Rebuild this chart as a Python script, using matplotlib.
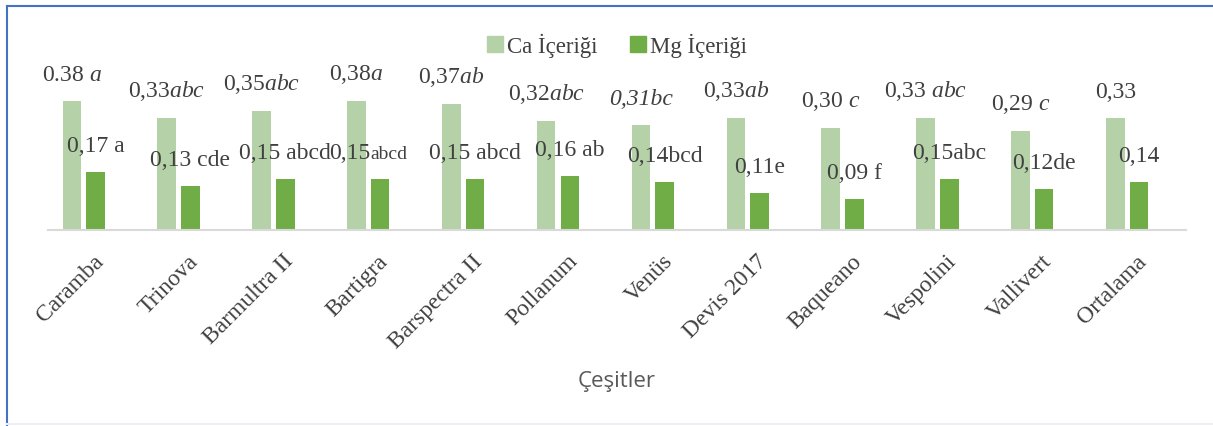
import numpy as np
import matplotlib.pyplot as plt
from matplotlib.patches import Patch
import matplotlib.transforms as mtransforms

plt.rcParams['font.family'] = ['Liberation Serif', 'DejaVu Serif']
plt.rcParams['mathtext.fontset'] = 'custom'
plt.rcParams['mathtext.rm'] = 'Liberation Serif'
plt.rcParams['mathtext.it'] = 'Liberation Serif:italic'

cesitler = ['Caramba', 'Trinova', 'Barmultra II', 'Bartigra', 'Barspectra II',
            'Pollanum', 'Venüs', 'Devis 2017', 'Baqueano', 'Vespolini',
            'Vallivert', 'Ortalama']
ca = [0.38, 0.33, 0.35, 0.38, 0.37, 0.32, 0.31, 0.33, 0.30, 0.33, 0.29, 0.33]
mg = [0.17, 0.13, 0.15, 0.15, 0.15, 0.16, 0.14, 0.11, 0.09, 0.15, 0.12, 0.14]
ca_labels = ['0.38 $\\mathit{a}$', '0,33$\\mathit{abc}$', '0,35$\\mathit{abc}$',
             '0,38$\\mathit{a}$', '0,37$\\mathit{ab}$', '0,32$\\mathit{abc}$',
             '0,31bc', '0,33$\\mathit{ab}$', '0,30 $\\mathit{c}$',
             '0,33 $\\mathit{abc}$', '0,29 $\\mathit{c}$', '0,33']
mg_labels = ['0,17 a', '0,13 cde', '0,15 abcd', None, '0,15 abcd', '0,16 ab',
             '0,14bcd', '0,11e', '0,09 f', '0,15abc', '0,12de', '0,14']

ca_color = '#B5D1A7'
mg_color = '#70AD47'
txt = '#404040'

fig = plt.figure(figsize=(12.13, 4.27), dpi=100)
ax = fig.add_axes([48 / 1213, 1 - 231 / 427, 1138 / 1213, 170 / 427])

x = np.arange(len(cesitler))
w = 0.195
ax.bar(x - 0.125, ca, w, color=ca_color, zorder=2)
ax.bar(x + 0.125, mg, w, color=mg_color, zorder=2)

ax.set_xlim(-0.376, 11.62)
ax.set_ylim(0, 0.5)
for s in ['top', 'right', 'left']:
    ax.spines[s].set_visible(False)
ax.spines['bottom'].set_color('#D9D9D9')
ax.spines['bottom'].set_linewidth(1.5)
ax.set_yticks([])

for i in range(len(cesitler)):
    style = 'italic' if ca_labels[i] == '0,31bc' else 'normal'
    ax.annotate(ca_labels[i], (x[i] - 0.125, ca[i]), xytext=(0, 11.5),
                textcoords='offset points', ha='center', va='bottom',
                fontsize=17, color=txt, fontstyle=style, annotation_clip=False)
    if mg_labels[i] is not None:
        ax.annotate(mg_labels[i], (x[i] + 0.125, mg[i]), xytext=(0, 11.5),
                    textcoords='offset points', ha='center', va='bottom',
                    fontsize=17, color=txt, annotation_clip=False)
    else:
        ax.annotate('0,15', (x[i] + 0.125, mg[i]), xytext=(-7, 11.5),
                    textcoords='offset points', ha='right', va='bottom',
                    fontsize=17, color=txt, annotation_clip=False)
        ax.annotate('abcd', (x[i] + 0.125, mg[i]), xytext=(-7, 12.1),
                    textcoords='offset points', ha='left', va='bottom',
                    fontsize=14, color=txt, annotation_clip=False)

ax.set_xticks(x)
ax.set_xticklabels(cesitler, rotation=45, ha='right', rotation_mode='anchor',
                   fontsize=17, color=txt)
ax.tick_params(axis='x', length=0, pad=0)
offset = mtransforms.ScaledTranslation(9 / 100, -20 / 100, fig.dpi_scale_trans)
for lab in ax.get_xticklabels():
    lab.set_transform(lab.get_transform() + offset)

fig.text(617 / 1213, 1 - 382 / 427, 'Çeşitler', family='Open Sans',
         fontsize=16, color='#595959', ha='center', va='center')

handles = [Patch(color=ca_color, label='Ca İçeriği'),
           Patch(color=mg_color, label='Mg İçeriği')]
fig.legend(handles=handles, loc='center', bbox_to_anchor=(617 / 1213, 1 - 46 / 427),
           ncol=2, frameon=False, fontsize=16.5, handlelength=0.7, handleheight=0.7,
           handletextpad=0.2, columnspacing=1.4, labelcolor=txt)

# outer frame lines
fig.add_artist(plt.Line2D([7 / 1213, 7 / 1213], [0, 1 - 7 / 427], color='#4472C4', lw=1.5))
fig.add_artist(plt.Line2D([7 / 1213, 1], [1 - 7 / 427, 1 - 7 / 427], color='#4472C4', lw=1.5))
fig.add_artist(plt.Line2D([7 / 1213, 1], [2 / 427, 2 / 427], color='#EEEEF4', lw=1.5))

fig.savefig('out.png', dpi=100)
